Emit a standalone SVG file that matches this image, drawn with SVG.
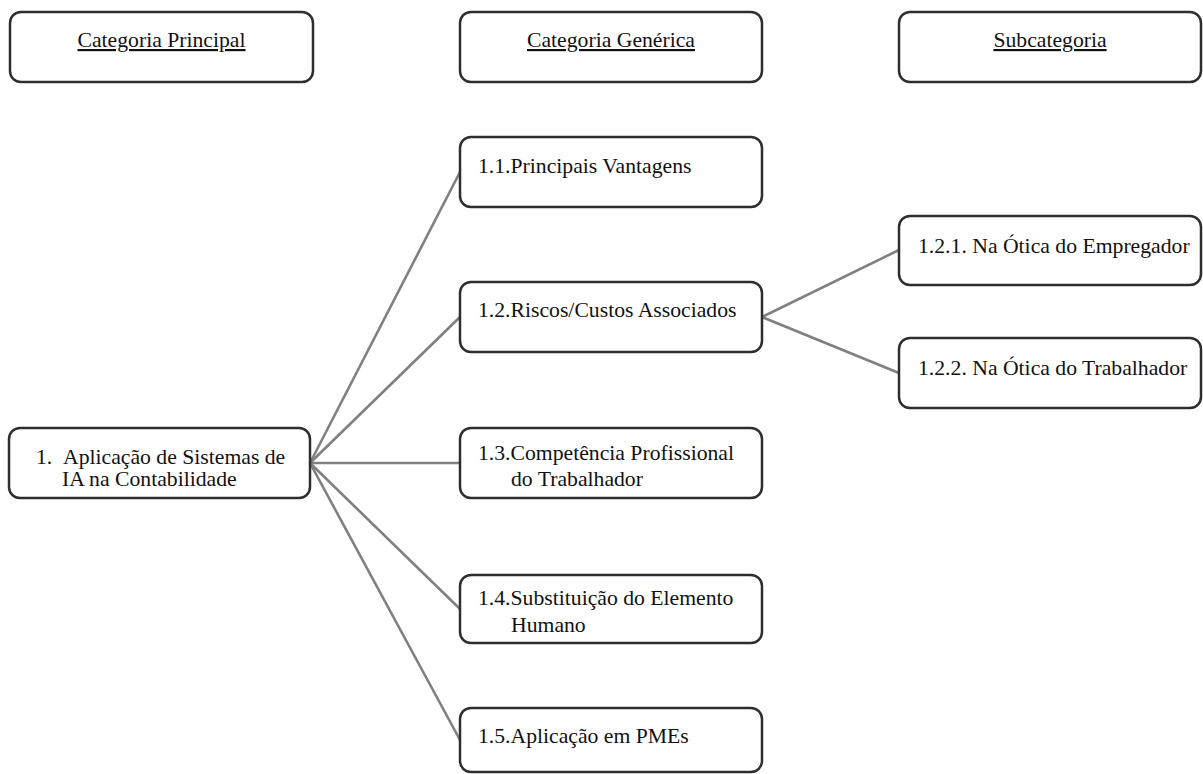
<svg xmlns="http://www.w3.org/2000/svg" width="1203" height="774" viewBox="0 0 1203 774">
<style>
.box{fill:#fff;stroke:#2e2e2e;stroke-width:2.5}
.t{font-family:'Liberation Serif',Tinos,'Times New Roman','DejaVu Serif',serif;font-size:21.7px;fill:#111}
.h{text-decoration:underline;text-anchor:middle}
.c{stroke:#808080;stroke-width:2.6;fill:none}
</style>
<rect width="1203" height="774" fill="#fff"/>
<g id="connectors">
<line class="c" x1="310" y1="463" x2="460" y2="172"/>
<line class="c" x1="310" y1="463" x2="460" y2="317"/>
<line class="c" x1="310" y1="463" x2="460" y2="463"/>
<line class="c" x1="310" y1="463" x2="460" y2="609"/>
<line class="c" x1="310" y1="463" x2="460" y2="740"/>
<line class="c" x1="762" y1="317" x2="899" y2="250"/>
<line class="c" x1="762" y1="317" x2="899" y2="373"/>
</g>
<g font-family="Liberation Serif, serif">
<g id="h1"><rect class="box" x="10" y="12" width="303" height="70" rx="11"/><text class="t h" x="161.5" y="47">Categoria Principal</text></g>
<g id="h2"><rect class="box" x="460" y="12" width="302" height="70" rx="11"/><text class="t h" x="611" y="47">Categoria Genérica</text></g>
<g id="h3"><rect class="box" x="899" y="12" width="302" height="70" rx="11"/><text class="t h" x="1050" y="47">Subcategoria</text></g>
<g id="n1"><rect class="box" x="9" y="428" width="301" height="70" rx="11"/><text class="t"><tspan x="36" y="464">1.</tspan><tspan x="63" y="464">Aplicação de Sistemas de</tspan><tspan x="62" y="486">IA na Contabilidade</tspan></text></g>
<g id="n11"><rect class="box" x="460" y="137" width="302" height="70" rx="11"/><text class="t" x="478" y="173">1.1.Principais Vantagens</text></g>
<g id="n12"><rect class="box" x="460" y="282" width="302" height="70" rx="11"/><text class="t" x="478" y="317">1.2.Riscos/Custos Associados</text></g>
<g id="n121"><rect class="box" x="899" y="216" width="302" height="69" rx="11"/><text class="t" x="918" y="253">1.2.1. Na Ótica do Empregador</text></g>
<g id="n122"><rect class="box" x="899" y="338" width="302" height="70" rx="11"/><text class="t" x="918" y="375">1.2.2. Na Ótica do Trabalhador</text></g>
<g id="n13"><rect class="box" x="460" y="428" width="302" height="70" rx="11"/><text class="t"><tspan x="478" y="460">1.3.Competência Profissional</tspan><tspan x="511" y="486">do Trabalhador</tspan></text></g>
<g id="n14"><rect class="box" x="460" y="575" width="302" height="68" rx="11"/><text class="t"><tspan x="478" y="605">1.4.Substituição do Elemento</tspan><tspan x="511" y="632">Humano</tspan></text></g>
<g id="n15"><rect class="box" x="460" y="708" width="302" height="64" rx="11"/><text class="t" x="478" y="743">1.5.Aplicação em PMEs</text></g>
</g>
</svg>
